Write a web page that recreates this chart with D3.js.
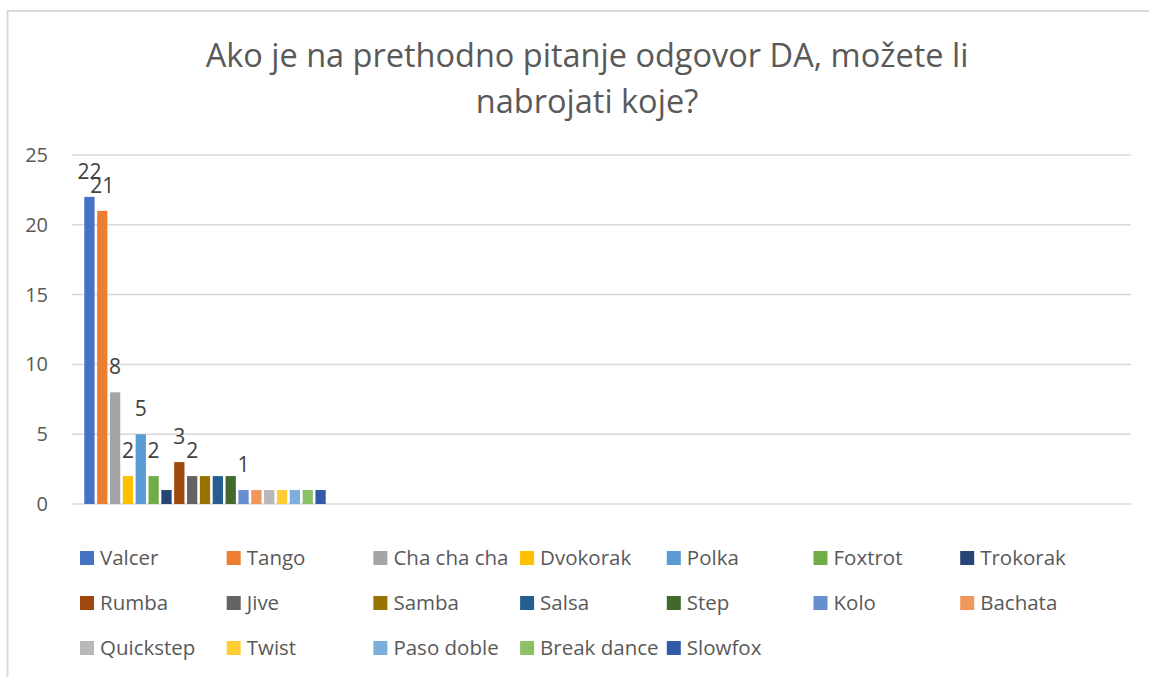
<!DOCTYPE html>
<html>
<head>
<meta charset="utf-8">
<script src="https://cdn.jsdelivr.net/npm/d3@7"></script>
<style>
  html, body { margin: 0; padding: 0; background: #fff; }
  svg { display: block; font-family: "Open Sans", sans-serif; }
</style>
</head>
<body>
<svg id="chart" width="1149" height="677"></svg>
<script>
const titleLines = ["Ako je na prethodno pitanje odgovor DA, možete li", "nabrojati koje?"];
const seriesNames = ["Valcer", "Tango", "Cha cha cha", "Dvokorak", "Polka", "Foxtrot", "Trokorak",
  "Rumba", "Jive", "Samba", "Salsa", "Step", "Kolo", "Bachata",
  "Quickstep", "Twist", "Paso doble", "Break dance", "Slowfox"];
const seriesValues = [22, 21, 8, 2, 5, 2, 1, 3, 2, 2, 2, 2, 1, 1, 1, 1, 1, 1, 1];
const labelShown = [true, true, true, true, true, true, false, true, true, false, false, false, true, false, false, false, false, false, false];
const seriesColors = ["#4472C4", "#ED7D31", "#A5A5A5", "#FFC000", "#5B9BD5", "#70AD47", "#264478",
  "#9E480E", "#636363", "#997300", "#255E91", "#43682B", "#698ED0", "#F1975A",
  "#B7B7B7", "#FFCD33", "#7CAFDD", "#8CC168", "#335AA6"];
const yTicks = [0, 5, 10, 15, 20, 25];

const svg = d3.select("#chart");
const textColor = "#595959";

// chart area border
svg.append("rect").attr("x", 7.5).attr("y", 11).attr("width", 1200).attr("height", 700)
  .attr("fill", "none").attr("stroke", "#d9d9d9").attr("stroke-width", 2);

// title
svg.append("g").selectAll("text").data(titleLines).join("text")
  .attr("x", 587).attr("y", (d, i) => 67 + i * 46)
  .attr("text-anchor", "middle").attr("fill", textColor)
  .style("font-size", "32.5px").text(d => d);

const plotLeft = 72, plotRight = 1131;
const y = d3.scaleLinear().domain([0, 25]).range([504, 155]);
const x = d3.scaleBand().domain(seriesNames).range([83, 327]).paddingInner(0.2).paddingOuter(0.1);

// gridlines
svg.append("g").selectAll("line").data(yTicks).join("line")
  .attr("x1", plotLeft).attr("x2", plotRight)
  .attr("y1", d => y(d)).attr("y2", d => y(d))
  .attr("stroke", "#d9d9d9").attr("stroke-width", 1.5);

// y axis labels
const yAxis = d3.axisLeft(y).tickValues(yTicks).tickSize(0).tickPadding(0);
const ga = svg.append("g").attr("transform", "translate(48,0)").call(yAxis);
ga.select(".domain").remove();
ga.selectAll("text").attr("fill", textColor).style("font-size", "20px").style("font-family", "Open Sans, sans-serif");

// bars
const data = seriesNames.map((n, i) => ({ name: n, value: seriesValues[i], color: seriesColors[i], label: labelShown[i] }));
svg.append("g").selectAll("rect").data(data).join("rect")
  .attr("x", d => x(d.name)).attr("width", x.bandwidth())
  .attr("y", d => y(d.value)).attr("height", d => y(0) - y(d.value))
  .attr("fill", d => d.color);

// data labels
svg.append("g").selectAll("text").data(data.filter(d => d.label)).join("text")
  .attr("x", d => x(d.name) + x.bandwidth() / 2).attr("y", d => y(d.value) - 18)
  .attr("text-anchor", "middle").attr("fill", "#404040")
  .style("font-size", "21px").text(d => d.value);

// legend
const legCols = 7, colStep = 146.7, rowStep = 45;
const leg = svg.append("g").selectAll("g").data(data).join("g")
  .attr("transform", (d, i) => `translate(${80 + (i % legCols) * colStep},${558 + Math.floor(i / legCols) * rowStep})`);
leg.append("rect").attr("x", 0).attr("y", -7).attr("width", 14).attr("height", 14).attr("fill", d => d.color);
leg.append("text").attr("x", 20).attr("y", 0).attr("dy", "0.35em").attr("fill", textColor)
  .style("font-size", "20.5px").text(d => d.name);
</script>
</body>
</html>
